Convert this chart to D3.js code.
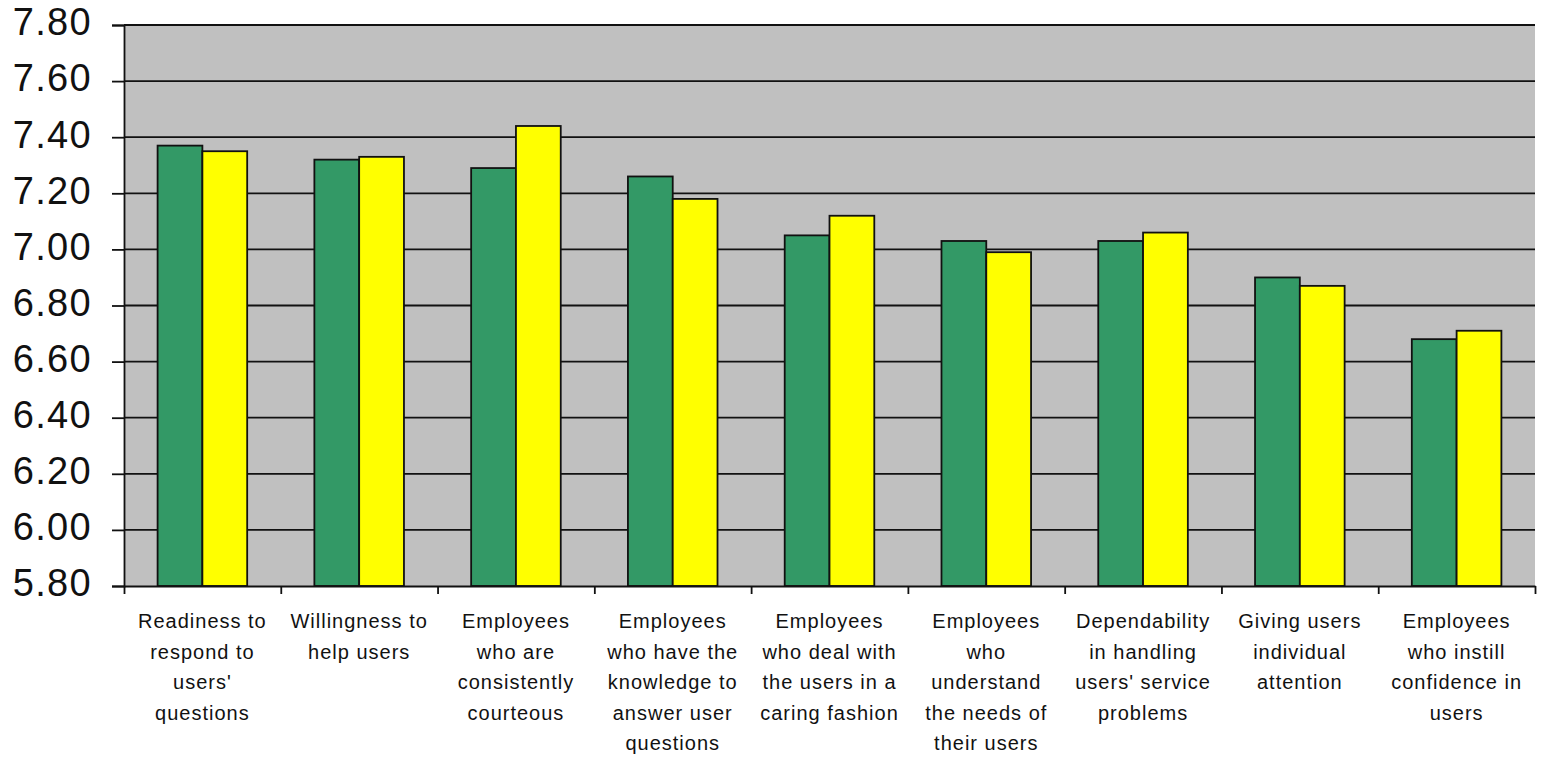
<!DOCTYPE html>
<html>
<head>
<meta charset="utf-8">
<script src="https://cdn.jsdelivr.net/npm/d3@7"></script>
<style>
  html, body { margin: 0; padding: 0; background: #ffffff; }
  svg { display: block; }
  .ylab { font-family: "Liberation Sans", Arial, sans-serif; font-size: 38px; fill: #111; letter-spacing: 1.3px; }
  .xlab { font-family: "Liberation Sans", Arial, sans-serif; font-size: 20px; fill: #111; letter-spacing: 1px; }
</style>
</head>
<body>
<svg id="chart" width="1549" height="757"></svg>
<script>
// Service quality ratings per attribute, two survey series
const categoryLines = [
  ["Readiness to", "respond to", "users'", "questions"],
  ["Willingness to", "help users"],
  ["Employees", "who are", "consistently", "courteous"],
  ["Employees", "who have the", "knowledge to", "answer user", "questions"],
  ["Employees", "who deal with", "the users in a", "caring fashion"],
  ["Employees", "who", "understand", "the needs of", "their users"],
  ["Dependability", "in handling", "users' service", "problems"],
  ["Giving users", "individual", "attention"],
  ["Employees", "who instill", "confidence in", "users"]
];
const categories = categoryLines.map(l => l.join(" "));

const seriesOne = [7.37, 7.32, 7.29, 7.26, 7.05, 7.03, 7.03, 6.90, 6.68];
const seriesTwo = [7.35, 7.33, 7.44, 7.18, 7.12, 6.99, 7.06, 6.87, 6.71];
const seriesNames = ["seriesOne", "seriesTwo"];
const seriesColors = ["#339966", "#ffff00"];

const yTicks = [5.8, 6.0, 6.2, 6.4, 6.6, 6.8, 7.0, 7.2, 7.4, 7.6, 7.8];

const plot = { left: 124, right: 1535, top: 25, bottom: 586 };

const svg = d3.select("#chart");

const y = d3.scaleLinear().domain([5.8, 7.8]).range([plot.bottom, plot.top]);
const x0 = d3.scaleBand().domain(categories).range([plot.left, plot.right]).padding(0);
const x1 = d3.scaleBand().domain(seriesNames).range([0, x0.bandwidth()])
  .paddingInner(0).paddingOuter(0.75);
const xEdges = d3.scaleLinear().domain([0, categories.length]).range([plot.left, plot.right]);

// plot background
svg.append("rect")
  .attr("x", plot.left).attr("y", plot.top)
  .attr("width", plot.right - plot.left).attr("height", plot.bottom - plot.top)
  .attr("fill", "#c0c0c0");

// horizontal gridlines
svg.append("g")
  .selectAll("line")
  .data(yTicks.filter(t => t > 5.8))
  .join("line")
  .attr("x1", plot.left).attr("x2", plot.right)
  .attr("y1", d => y(d)).attr("y2", d => y(d))
  .attr("stroke", "#111").attr("stroke-width", 1.8);

// bars
const rows = categories.map((c, i) => ({ c, vals: [seriesOne[i], seriesTwo[i]] }));
const groups = svg.append("g").selectAll("g")
  .data(rows).join("g")
  .attr("transform", d => `translate(${x0(d.c)},0)`);
groups.selectAll("rect")
  .data(d => d.vals.map((v, k) => ({ v, k })))
  .join("rect")
  .attr("x", d => x1(seriesNames[d.k]))
  .attr("width", x1.bandwidth())
  .attr("y", d => y(d.v))
  .attr("height", d => y(5.8) - y(d.v))
  .attr("fill", d => seriesColors[d.k])
  .attr("stroke", "#111").attr("stroke-width", 1.8);

// y axis
const yAxis = svg.append("g")
  .attr("transform", `translate(${plot.left},0)`)
  .call(d3.axisLeft(y).tickValues(yTicks).tickFormat(d3.format(".2f")).tickSize(12).tickPadding(20));
yAxis.select(".domain").attr("stroke", "#111").attr("stroke-width", 1.8);
yAxis.selectAll(".tick line").attr("stroke", "#111").attr("stroke-width", 1.8);
yAxis.selectAll(".tick text").attr("class", "ylab").attr("fill", null).attr("dy", "0.26em");
yAxis.attr("font-size", null).attr("font-family", null);

// x axis with ticks between categories
const xAxis = svg.append("g")
  .attr("transform", `translate(0,${plot.bottom})`)
  .call(d3.axisBottom(xEdges).tickValues(d3.range(categories.length + 1)).tickFormat("").tickSize(8).tickSizeOuter(0));
xAxis.select(".domain").attr("stroke", "#111").attr("stroke-width", 1.8);
xAxis.selectAll(".tick line").attr("stroke", "#111").attr("stroke-width", 1.8);

// category labels
const labels = svg.append("g").selectAll("text")
  .data(categoryLines).join("text")
  .attr("class", "xlab")
  .attr("text-anchor", "middle")
  .attr("x", (d, i) => x0(categories[i]) + x0.bandwidth() / 2)
  .attr("y", 628);
labels.selectAll("tspan")
  .data(d => d).join("tspan")
  .attr("x", function () { return d3.select(this.parentNode).attr("x"); })
  .attr("dy", (d, i) => i === 0 ? 0 : 30.5)
  .text(d => d);
</script>
</body>
</html>
